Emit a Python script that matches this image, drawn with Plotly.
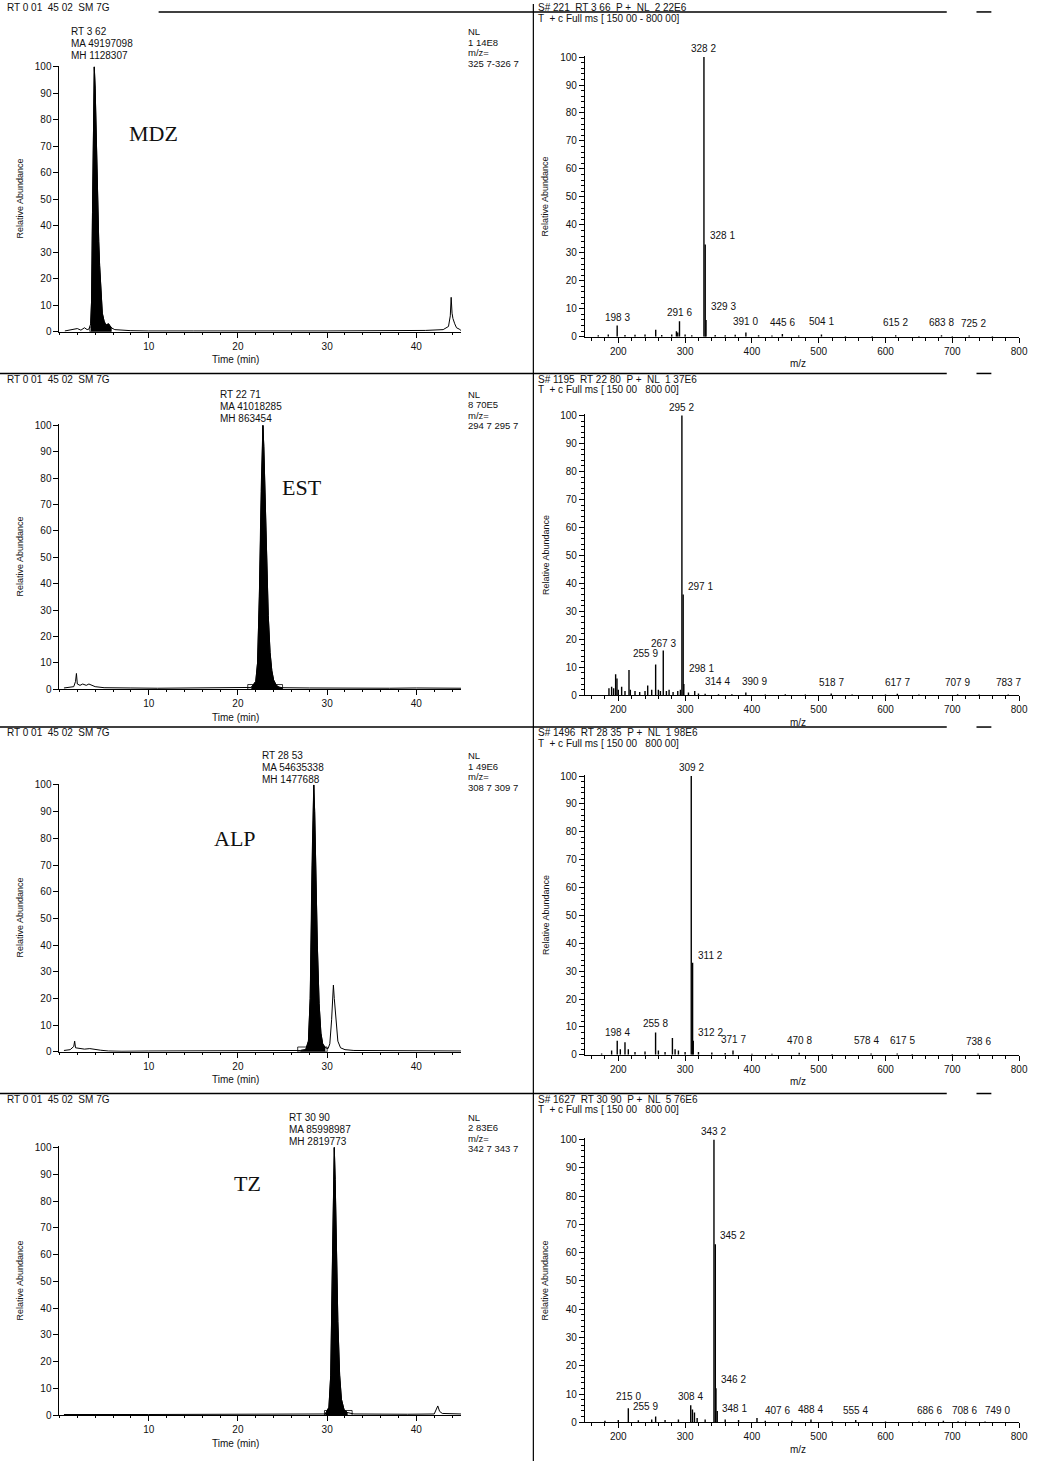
import plotly.graph_objects as go

W, H = 1042, 1467

# ---------------- DATA ----------------
compounds = ["MDZ", "EST", "ALP", "TZ"]

# Chromatograms: (time [min], relative abundance [%])
mdz_chrom = [(0.6, 0.3), (1.0, 0.5), (1.5, 0.8), (2.0, 1.2), (2.4, 0.6), (2.8, 1.5), (3.1, 0.8),
             (3.3, 1.0), (3.5, 3), (3.6, 12), (3.7, 45), (3.8, 85), (3.9, 100), (4.0, 92), (4.1, 75),
             (4.2, 58), (4.3, 45), (4.4, 34), (4.5, 25), (4.6, 17), (4.7, 11), (4.8, 7), (5.0, 4),
             (5.2, 2.5), (5.5, 3), (5.8, 1.5), (6.2, 0.8), (7.0, 0.5), (8.0, 0.4), (10.0, 0.3),
             (12.0, 0.4), (15.0, 0.3), (18.0, 0.3), (22.0, 0.4), (26.0, 0.3), (30.0, 0.3), (34.0, 0.4),
             (38.0, 0.3), (41.0, 0.5), (43.0, 0.8), (43.6, 2), (43.8, 6), (43.9, 13), (44.0, 7),
             (44.1, 5), (44.3, 3), (44.5, 1.5), (44.8, 1.0), (45.0, 0.5)]
est_chrom = [(0.5, 0.5), (1.0, 0.8), (1.6, 1.0), (1.8, 3), (1.9, 6), (2.0, 2), (2.3, 1.5), (2.6, 2),
             (3.0, 1.5), (3.3, 2), (3.6, 1.5), (4.0, 1.0), (5.0, 0.6), (6.0, 0.5), (8.0, 0.5),
             (11.0, 0.4), (14.0, 0.5), (17.0, 0.4), (20.0, 0.5), (21.5, 0.7), (22.0, 3), (22.2, 10),
             (22.4, 35), (22.6, 75), (22.7, 95), (22.8, 100), (22.9, 92), (23.0, 78), (23.2, 50),
             (23.4, 28), (23.6, 14), (23.8, 7), (24.0, 3.5), (24.3, 1.5), (24.6, 0.8), (25.0, 0.6),
             (28.0, 0.5), (31.0, 0.4), (34.0, 0.5), (37.0, 0.4), (40.0, 0.5), (43.0, 0.4), (45.0, 0.4)]
alp_chrom = [(0.5, 0.5), (1.2, 0.8), (1.6, 2), (1.7, 4), (1.8, 1.5), (2.2, 1.2), (2.8, 1.0),
             (3.4, 1.2), (4.0, 0.8), (4.6, 0.6), (5.5, 0.3), (7.0, 0.2), (10.0, 0.3), (14.0, 0.3),
             (18.0, 0.3), (22.0, 0.3), (25.0, 0.4), (27.0, 0.5), (27.6, 0.8), (27.9, 4), (28.1, 20),
             (28.3, 70), (28.4, 92), (28.5, 100), (28.6, 90), (28.7, 70), (28.9, 40), (29.1, 18),
             (29.3, 7), (29.5, 3), (29.8, 1.5), (30.1, 1.2), (30.3, 3), (30.5, 12), (30.6, 22),
             (30.7, 25), (30.8, 20), (31.0, 10), (31.2, 4), (31.5, 1.5), (32.0, 0.8), (33.0, 0.5),
             (36.0, 0.4), (40.0, 0.3), (43.0, 0.3), (45.0, 0.3)]
tz_chrom = [(0.5, 0.3), (3.0, 0.4), (6.0, 0.3), (10.0, 0.3), (14.0, 0.3), (18.0, 0.3), (22.0, 0.3),
            (26.0, 0.4), (29.0, 0.4), (29.8, 0.5), (30.2, 3), (30.4, 15), (30.6, 60), (30.7, 90),
            (30.8, 100), (30.9, 88), (31.0, 65), (31.2, 35), (31.4, 15), (31.6, 6), (31.9, 2),
            (32.3, 1.0), (33.0, 0.5), (36.0, 0.4), (39.0, 0.4), (42.0, 0.5), (42.2, 2), (42.4, 3.5),
            (42.6, 1.5), (42.9, 0.7), (45.0, 0.5)]

# integration windows (start, end) [min]
integration = [(3.4, 5.8), (21.1, 25.0), (26.7, 30.0), (29.7, 32.8)]

# chromatogram header texts
chrom_rt = ["RT 3 62", "RT 22 71", "RT 28 53", "RT 30 90"]
chrom_ma = ["MA 49197098", "MA 41018285", "MA 54635338", "MA 85998987"]
chrom_mh = ["MH 1128307", "MH 863454", "MH 1477688", "MH 2819773"]
chrom_nl = ["1 14E8", "8 70E5", "1 49E6", "2 83E6"]
chrom_mz = ["325 7-326 7", "294 7 295 7", "308 7 309 7", "342 7 343 7"]
chrom_title = "RT 0 01  45 02  SM 7G"

# Mass spectra: (m/z, relative abundance %)
mdz_ms = [(170, 0.5), (185, 0.8), (198.3, 4), (210, 0.6), (225, 0.7), (240, 0.8), (256, 2.5),
          (265, 0.6), (280, 0.8), (287, 2.0), (289, 1.5), (291.6, 5.5), (300, 0.8), (310, 0.5),
          (328.2, 100), (330.1, 33), (331.3, 6), (345, 0.6), (360, 0.5), (375, 0.7), (391.0, 1.5),
          (410, 0.5), (430, 0.4), (445.6, 1.0), (470, 0.4), (504.1, 0.8), (540, 0.3), (580, 0.3),
          (615.2, 0.5), (650, 0.3), (683.8, 0.5), (700, 0.3), (725.2, 0.4), (760, 0.3)]
est_ms = [(186, 2.5), (190, 3), (193, 2.5), (196, 7.5), (198, 6), (200, 2), (205, 3), (210, 1.5),
          (216, 9), (218, 2), (225, 1.5), (232, 1.2), (240, 1.5), (244, 3.5), (250, 2), (255.9, 11),
          (260, 2), (263, 1.5), (267.3, 16), (272, 1.5), (276, 2), (282, 1.2), (289, 1.5), (293, 2),
          (295.2, 100), (297.1, 36), (298.1, 4), (305, 1), (314.4, 1.5), (320, 0.6), (330, 0.5),
          (350, 0.4), (370, 0.4), (390.9, 1.0), (420, 0.3), (450, 0.4), (480, 0.3), (518.7, 0.6),
          (550, 0.3), (600, 0.3), (617.7, 0.5), (650, 0.3), (707.9, 0.4), (740, 0.3), (783.7, 0.3)]
alp_ms = [(175, 0.5), (190, 1.5), (198.4, 5), (203, 2), (210, 4.5), (215, 2), (225, 1), (240, 1.2),
          (255.8, 8), (260, 1.5), (270, 1), (281, 6), (285, 2), (290, 1.5), (300, 1), (309.2, 100),
          (311.2, 33), (312.2, 5), (320, 1), (340, 0.8), (360, 0.6), (371.7, 1.5), (400, 0.4),
          (430, 0.4), (470.8, 0.7), (520, 0.3), (578.4, 0.5), (617.5, 0.5), (640, 0.3), (700, 0.3),
          (738.6, 0.4)]
tz_ms = [(180, 0.5), (200, 0.8), (215.0, 5), (230, 0.7), (250, 1), (255.9, 2), (270, 0.8),
         (290, 1), (308.4, 6), (311, 4.5), (314, 3.5), (318, 1.5), (330, 1), (343.2, 100),
         (345.2, 63), (346.2, 12), (348.1, 4), (360, 1), (380, 0.8), (407.6, 1.5), (420, 0.5),
         (460, 0.5), (488.4, 1.0), (520, 0.4), (555.4, 0.8), (600, 0.3), (650, 0.3), (686.6, 0.5),
         (708.6, 0.4), (720, 0.3), (749.0, 0.3)]

# labelled peaks (m/z, label text)
mdz_labels = [(198.3, "198 3"), (291.6, "291 6"), (328.2, "328 2"), (330.1, "328 1"), (331.3, "329 3"),
              (391.0, "391 0"), (445.6, "445 6"), (504.1, "504 1"), (615.2, "615 2"), (683.8, "683 8"),
              (725.2, "725 2")]
est_labels = [(255.9, "255 9"), (267.3, "267 3"), (295.2, "295 2"), (297.1, "297 1"), (298.1, "298 1"),
              (314.4, "314 4"), (390.9, "390 9"), (518.7, "518 7"), (617.7, "617 7"), (707.9, "707 9"),
              (783.7, "783 7")]
alp_labels = [(198.4, "198 4"), (255.8, "255 8"), (309.2, "309 2"), (311.2, "311 2"), (312.2, "312 2"),
              (371.7, "371 7"), (470.8, "470 8"), (578.4, "578 4"), (617.5, "617 5"), (738.6, "738 6")]
tz_labels = [(215.0, "215 0"), (255.9, "255 9"), (308.4, "308 4"), (343.2, "343 2"), (345.2, "345 2"),
             (346.2, "346 2"), (348.1, "348 1"), (407.6, "407 6"), (488.4, "488 4"), (555.4, "555 4"),
             (686.6, "686 6"), (708.6, "708 6"), (749.0, "749 0")]

ms_head1 = ["S# 221  RT 3 66  P +  NL  2 22E6", "S# 1195  RT 22 80  P +  NL  1 37E6",
            "S# 1496  RT 28 35  P +  NL  1 98E6", "S# 1627  RT 30 90  P +  NL  5 76E6"]
ms_head2 = ["T  + c Full ms [ 150 00 - 800 00]", "T  + c Full ms [ 150 00   800 00]",
            "T  + c Full ms [ 150 00   800 00]", "T  + c Full ms [ 150 00   800 00]"]

chrom_ticks = [10, 20, 30, 40]
ab_ticks = [0, 10, 20, 30, 40, 50, 60, 70, 80, 90, 100]
mz_ticks = [200, 300, 400, 500, 600, 700, 800]

chroms = [mdz_chrom, est_chrom, alp_chrom, tz_chrom]
spectra = [mdz_ms, est_ms, alp_ms, tz_ms]
labels = [mdz_labels, est_labels, alp_labels, tz_labels]

# ---------------- LAYOUT (pixel geometry) ----------------
def fx(p):
    return p / W

def fy(p):
    return 1 - p / H

chrom_top = [62, 423, 785, 1150]
chrom_bot = [330, 690, 1055, 1421]
ms_top = [52, 413, 776, 1142]
ms_bot = [335, 696, 1058, 1428]
rule_y = [8, 372, 728, 1097]
chrom_x0, chrom_x1 = 60, 465
ms_x0, ms_x1 = 590, 1028
font_main = "Liberation Sans, Arial, sans-serif"
TXT = dict(family=font_main, size=10, color="#111")

# label placement styles: side labels sit right of their peak; shifts in pixels
side_labels = {"328 1", "329 3", "297 1", "298 1", "314 4", "311 2", "312 2", "345 2", "346 2",
               "348 1", "407 6"}
label_yshift = {"298 1": 8, "329 3": 6, "391 0": 4, "445 6": 4, "504 1": 5, "615 2": 5, "683 8": 5,
                "725 2": 5, "314 4": 2, "390 9": 3, "518 7": 4, "617 7": 4, "707 9": 4, "783 7": 4,
                "371 7": 4, "470 8": 5, "578 4": 5, "617 5": 5, "738 6": 5, "215 0": 4, "255 9": 3,
                "407 6": 0, "488 4": 2, "555 4": 2, "686 6": 3, "708 6": 3, "749 0": 3, "267 3": 0,
                "348 1": -5, "311 2": 0}
label_xshift = {"255 9": -10, "314 4": 8, "390 9": 9, "578 4": -5, "617 5": 5, "686 6": -14,
                "708 6": 6, "749 0": 12, "407 6": 6, "725 2": 4}


def annot(x, y, text, xanchor="center", yanchor="middle", font=TXT, **kw):
    d = dict(x=x, y=y, xref="paper", yref="paper", text=text, showarrow=False,
             xanchor=xanchor, yanchor=yanchor, font=font)
    d.update(kw)
    return d


fig = go.Figure()
layout = dict(width=W, height=H, margin=dict(l=0, r=0, t=0, b=0),
              paper_bgcolor="white", plot_bgcolor="white", showlegend=False)
annotations = []
shapes = []

for i in range(4):
    cx = "x%d" % (2 * i + 1)
    cy = "y%d" % (2 * i + 1)
    mx = "x%d" % (2 * i + 2)
    my = "y%d" % (2 * i + 2)
    kcx = "xaxis" if i == 0 else "xaxis%d" % (2 * i + 1)
    kcy = "yaxis" if i == 0 else "yaxis%d" % (2 * i + 1)
    kmx = "xaxis%d" % (2 * i + 2)
    kmy = "yaxis%d" % (2 * i + 2)

    # ---- chromatogram ----
    t = [p[0] for p in chroms[i]]
    a = [p[1] for p in chroms[i]]
    w0, w1 = integration[i]
    ft = [p[0] for p in chroms[i] if w0 <= p[0] <= w1]
    fa = [p[1] for p in chroms[i] if w0 <= p[0] <= w1]
    fig.add_trace(go.Scatter(x=ft, y=fa, mode="lines", fill="tozeroy", fillcolor="black",
                             line=dict(color="black", width=1), xaxis=cx, yaxis=cy, hoverinfo="skip"))
    fig.add_trace(go.Scatter(x=t, y=a, mode="lines", line=dict(color="black", width=1),
                             xaxis=cx, yaxis=cy, hoverinfo="skip"))
    shapes.append(dict(type="rect", xref=cx, yref=cy, x0=w0, x1=w1, y0=0, y1=1.8,
                       line=dict(color="black", width=0.8), fillcolor="rgba(0,0,0,0)"))

    layout[kcx] = dict(domain=[fx(chrom_x0), fx(chrom_x1)], range=[0, 45], anchor=cy,
                       tickvals=chrom_ticks, ticks="outside", ticklen=5, tickcolor="black",
                       showline=True, linecolor="black", linewidth=1, showgrid=False, zeroline=False,
                       tickfont=TXT, minor=dict(dtick=2, ticks="outside", ticklen=2, tickcolor="black"))
    layout[kcy] = dict(domain=[fy(chrom_bot[i]), fy(chrom_top[i])], range=[0, 100.5], anchor=cx,
                       tickvals=ab_ticks, ticks="outside", ticklen=5, tickcolor="black",
                       showline=True, linecolor="black", linewidth=1, showgrid=False, zeroline=False,
                       tickfont=TXT)

    # ---- mass spectrum ----
    sx, sy = [], []
    for m, v in spectra[i]:
        sx += [m, m, None]
        sy += [0, v, None]
    fig.add_trace(go.Scatter(x=sx, y=sy, mode="lines", line=dict(color="black", width=1.4),
                             xaxis=mx, yaxis=my, hoverinfo="skip"))
    layout[kmx] = dict(domain=[fx(ms_x0), fx(ms_x1)], range=[150, 800], anchor=my,
                       tickvals=mz_ticks, ticks="outside", ticklen=5, tickcolor="black",
                       showline=True, linecolor="black", linewidth=1, showgrid=False, zeroline=False,
                       tickfont=TXT, minor=dict(dtick=20, ticks="outside", ticklen=3, tickcolor="black"))
    layout[kmy] = dict(domain=[fy(ms_bot[i]), fy(ms_top[i])], range=[0, 100.5], anchor=mx,
                       tickvals=ab_ticks, ticks="outside", ticklen=5, tickcolor="black",
                       showline=True, linecolor="black", linewidth=1, showgrid=False, zeroline=False,
                       tickfont=TXT, minor=dict(dtick=2, ticks="outside", ticklen=3, tickcolor="black"))

    height_of = dict(spectra[i])
    for m, txt in labels[i]:
        side = txt in side_labels
        annotations.append(dict(x=m, y=height_of[m], xref=mx, yref=my, text=txt, showarrow=False,
                                xanchor="left" if side else "center", yanchor="bottom",
                                xshift=label_xshift.get(txt, 3 if side else 0),
                                yshift=label_yshift.get(txt, 1), font=TXT))

    # ---- texts ----
    rt_x = [70, 220, 262, 290][i]
    hy = [28, 393, 757, 1121][i]
    for k, s in enumerate([chrom_rt[i], chrom_ma[i], chrom_mh[i]]):
        annotations.append(annot(fx(rt_x), fy(hy + 12 * k), s, xanchor="left"))
    for k, s in enumerate(["NL", chrom_nl[i], "m/z=", chrom_mz[i]]):
        annotations.append(annot(fx(470), fy(hy + 10.5 * k), s, xanchor="left",
                                 font=dict(family=font_main, size=9.5, color="#111")))
    top_txt = 4 if i == 0 else rule_y[i] + 6
    annotations.append(annot(fx(5), fy(top_txt), chrom_title, xanchor="left"))
    annotations.append(annot(fx(541), fy(top_txt), ms_head1[i], xanchor="left"))
    annotations.append(annot(fx(541), fy(top_txt + 10.5), ms_head2[i], xanchor="left"))
    # axis titles
    annotations.append(annot(fx(20), fy((chrom_top[i] + chrom_bot[i]) / 2), "Relative Abundance",
                             textangle=-90, font=dict(family=font_main, size=9, color="#111")))
    annotations.append(annot(fx(550), fy((ms_top[i] + ms_bot[i]) / 2), "Relative Abundance",
                             textangle=-90, font=dict(family=font_main, size=9, color="#111")))
    annotations.append(annot(fx(238), fy(chrom_bot[i] + 28), "Time (min)"))
    annotations.append(annot(fx(805), fy(ms_bot[i] + 27), "m/z"))
    # compound label
    cpos = [(155, 130), (305, 487), (237, 840), (250, 1188)][i]
    annotations.append(annot(fx(cpos[0]), fy(cpos[1]), compounds[i],
                             font=dict(family="Liberation Serif, Times New Roman, serif", size=22,
                                       color="#111")))

    # rules
    shapes.append(dict(type="line", xref="paper", yref="paper",
                       x0=fx(160 if i == 0 else 0), x1=fx(955), y0=fy(rule_y[i]), y1=fy(rule_y[i]),
                       line=dict(color="black", width=1.5)))
    shapes.append(dict(type="line", xref="paper", yref="paper",
                       x0=fx(985), x1=fx(1000), y0=fy(rule_y[i]), y1=fy(rule_y[i]),
                       line=dict(color="black", width=1.5)))

shapes.append(dict(type="line", xref="paper", yref="paper", x0=fx(538), x1=fx(538), y0=0, y1=1,
                   line=dict(color="black", width=1.2)))

layout["annotations"] = annotations
layout["shapes"] = shapes
fig.update_layout(**layout)
fig.write_html("out.html")
